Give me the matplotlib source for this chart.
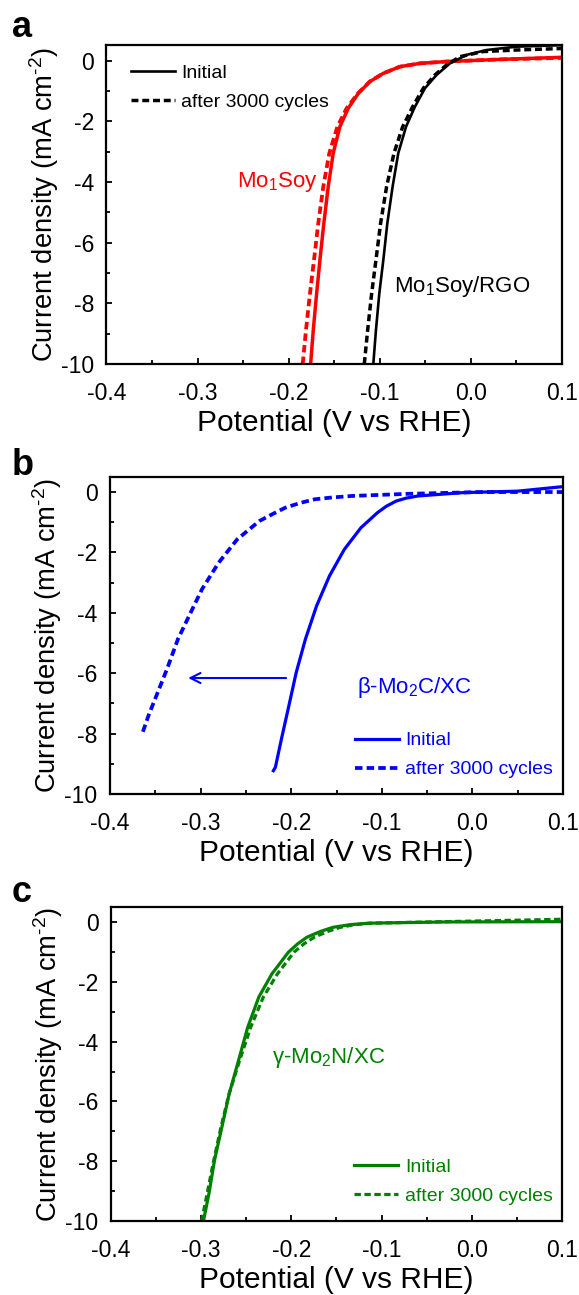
import numpy as np
import matplotlib
matplotlib.use("Agg")
import matplotlib.pyplot as plt
from matplotlib.ticker import MultipleLocator, FormatStrFormatter

plt.rcParams['font.family'] = ['Liberation Sans', 'DejaVu Sans']
plt.rcParams['mathtext.fontset'] = 'custom'
plt.rcParams['mathtext.rm'] = 'Liberation Sans'
plt.rcParams['axes.unicode_minus'] = False

##### data #####
# panel a: Mo1Soy (red)
mo1_init_x = [-0.1759, -0.1730, -0.1693, -0.1657, -0.1614, -0.1566, -0.1511, -0.1438,
              -0.1346, -0.1236, -0.1108, -0.0962, -0.0779, -0.0559, -0.0267, 0.0318, 0.1]
mo1_init_y = [-10, -8.88, -7.67, -6.57, -5.36, -4.15, -3.05, -2.18,
              -1.57, -1.08, -0.69, -0.42, -0.20, -0.09, -0.03, 0.04, 0.11]
mo1_cyc_x = [-0.1846, -0.1810, -0.1766, -0.1722, -0.1675, -0.1620, -0.1554, -0.1466,
             -0.1364, -0.1240, -0.1110, -0.0962, -0.0779, -0.0559, -0.0267, 0.0318, 0.1]
mo1_cyc_y = [-10, -8.88, -7.67, -6.57, -5.36, -4.15, -3.05, -2.18,
             -1.57, -1.08, -0.69, -0.42, -0.20, -0.09, -0.03, 0.04, 0.09]

# panel a: Mo1Soy/RGO (black)
rgo_init_x = [-0.1071, -0.1042, -0.1005, -0.0961, -0.0917, -0.0859, -0.0797, -0.0712,
              -0.0614, -0.0504, -0.0376, -0.0229, -0.0046, 0.0173, 0.0502, 0.1]
rgo_init_y = [-10, -8.88, -7.67, -6.57, -5.36, -4.15, -3.05, -2.18,
              -1.52, -0.91, -0.47, -0.09, 0.19, 0.35, 0.46, 0.51]
rgo_cyc_x = [-0.1170, -0.1133, -0.1089, -0.1042, -0.0991, -0.0925, -0.0844, -0.0749,
             -0.0639, -0.0522, -0.0394, -0.0266, -0.0120, 0.0137, 0.0502, 0.1]
rgo_cyc_y = [-10, -8.88, -7.67, -6.57, -5.36, -4.15, -3.05, -2.18,
             -1.52, -0.91, -0.47, -0.14, 0.13, 0.30, 0.35, 0.40]

# panel b: beta-Mo2C/XC (blue)
mo2c_init_x = [-0.2197, -0.2175, -0.2155, -0.2108, -0.2026, -0.1945, -0.1843, -0.1720,
               -0.1578, -0.1414, -0.1230, -0.1047, -0.0950, -0.0843, -0.0730, -0.0599,
               -0.0110, 0.0502, 0.1]
mo2c_init_y = [-9.23, -9.12, -8.84, -8.18, -7.08, -5.98, -4.87, -3.77,
               -2.78, -1.90, -1.18, -0.68, -0.47, -0.30, -0.20, -0.13,
               -0.02, 0.03, 0.18]
mo2c_cyc_x = [-0.3637, -0.3576, -0.3474, -0.3372, -0.3250, -0.3127, -0.2985, -0.2801,
              -0.2597, -0.2352, -0.2200, -0.2067, -0.1900, -0.1741, -0.1550, -0.1333,
              -0.0721, 0.0095, 0.1]
mo2c_cyc_y = [-7.94, -7.41, -6.64, -5.87, -4.87, -4.10, -3.22, -2.34,
              -1.57, -0.96, -0.72, -0.52, -0.36, -0.24, -0.18, -0.13,
              -0.06, 0.0, 0.0]

# panel c: gamma-Mo2N/XC (green)
mo2n_init_x = [-0.2975, -0.2914, -0.2852, -0.2770, -0.2689, -0.2586, -0.2484, -0.2361,
               -0.2217, -0.2033, -0.1930, -0.1828, -0.1680, -0.1541, -0.1350, -0.1131,
               -0.0311, 0.1]
mo2n_init_y = [-10, -9.08, -7.96, -6.85, -5.74, -4.63, -3.52, -2.51,
               -1.74, -1.01, -0.73, -0.51, -0.32, -0.18, -0.09, -0.04,
               0.0, 0.01]
mo2n_cyc_x = [-0.2996, -0.2934, -0.2860, -0.2780, -0.2690, -0.2574, -0.2451, -0.2311,
              -0.2156, -0.1971, -0.1860, -0.1746, -0.1600, -0.1459, -0.1300, -0.1131,
              -0.0311, 0.1]
mo2n_cyc_y = [-10, -9.08, -7.96, -6.85, -5.74, -4.63, -3.52, -2.51,
              -1.74, -1.01, -0.73, -0.51, -0.32, -0.18, -0.09, -0.04,
              0.01, 0.09]

# arrow in panel b (shift after cycling)
arrow_x = [-0.2026, -0.3168]
arrow_y = -6.16

RED = '#ff0000'
BLUE = '#0000ff'
GREEN = '#008000'
DASH = (2.0, 1.1)
SUP = r'Current density (mA cm$^{\mathregular{' + '\u2010' + r'2}}$)'


def style_axes(ax):
    ax.set_xlim(-0.4, 0.1)
    ax.set_ylim(-10, 0.5)
    ax.xaxis.set_major_locator(MultipleLocator(0.1))
    ax.xaxis.set_minor_locator(MultipleLocator(0.05))
    ax.yaxis.set_major_locator(MultipleLocator(2))
    ax.yaxis.set_minor_locator(MultipleLocator(1))
    ax.xaxis.set_major_formatter(FormatStrFormatter('%.1f'))
    ax.tick_params(which='both', direction='in', top=False, right=False,
                   labelsize=16.5, width=1.3)
    ax.tick_params(axis='x', pad=13)
    ax.tick_params(axis='y', pad=9)
    ax.tick_params(which='major', length=4)
    ax.tick_params(which='minor', length=3)
    for s in ax.spines.values():
        s.set_linewidth(1.6)
    ax.set_xlabel('Potential (V vs RHE)', fontsize=21.5, labelpad=3)
    ax.set_ylabel(SUP, fontsize=19.7, labelpad=0)


def legend(ax, x, y, color):
    ax.legend(loc='upper left', bbox_to_anchor=(x, y), frameon=False, fontsize=14,
              labelcolor=color, handlelength=2.26, handletextpad=0.35, labelspacing=0.58,
              borderpad=0, borderaxespad=0)


fig = plt.figure(figsize=(5.79, 12.95), dpi=100)
ax_a = fig.add_axes([0.1839, 0.7189, 0.7867, 0.2460])
ax_b = fig.add_axes([0.1900, 0.3869, 0.7824, 0.2448])
ax_c = fig.add_axes([0.1917, 0.0571, 0.7789, 0.2425])

# ---- panel a ----
ax_a.plot(mo1_init_x, mo1_init_y, color=RED, lw=2.5)
ax_a.plot(mo1_cyc_x, mo1_cyc_y, color=RED, lw=2.7, ls=(0, DASH))
ax_a.plot(rgo_init_x, rgo_init_y, color='black', lw=1.9, label='Initial')
ax_a.plot(rgo_cyc_x, rgo_cyc_y, color='black', lw=2.5, ls=(0, DASH), label='after 3000 cycles')
legend(ax_a, 0.053, 0.941, 'black')
ax_a.text(-0.2569, -4.01, r'Mo$_{\mathregular{1}}$Soy', color=RED, fontsize=16, va='center')
ax_a.text(-0.0849, -7.43, r'Mo$_{\mathregular{1}}$Soy/RGO', color='black', fontsize=16, va='center')
style_axes(ax_a)

# ---- panel b ----
ax_b.plot(mo2c_init_x, mo2c_init_y, color=BLUE, lw=2.3, label='Initial')
ax_b.plot(mo2c_cyc_x, mo2c_cyc_y, color=BLUE, lw=2.7, ls=(0, DASH), label='after 3000 cycles')
ax_b.annotate('', xy=(arrow_x[1], arrow_y), xytext=(arrow_x[0], arrow_y),
              arrowprops=dict(arrowstyle='->', color=BLUE, lw=1.5, mutation_scale=18))
ax_b.text(-0.1272, -6.47, r'β-Mo$_{\mathregular{2}}$C/XC', color=BLUE, fontsize=16, va='center')
legend(ax_b, 0.540, 0.196, BLUE)
style_axes(ax_b)

# ---- panel c ----
ax_c.plot(mo2n_init_x, mo2n_init_y, color=GREEN, lw=2.3, label='Initial')
ax_c.plot(mo2n_cyc_x, mo2n_cyc_y, color=GREEN, lw=2.3, ls=(0, DASH), label='after 3000 cycles')
ax_c.text(-0.2217, -4.52, r'γ-Mo$_{\mathregular{2}}$N/XC', color=GREEN, fontsize=16, va='center')
legend(ax_c, 0.539, 0.199, GREEN)
style_axes(ax_c)

# panel letters
fig.text(12 / 579, 1 - 37 / 1295, 'a', fontsize=26, fontweight='bold', va='baseline')
fig.text(12 / 579, 1 - 475 / 1295, 'b', fontsize=26, fontweight='bold', va='baseline')
fig.text(12 / 579, 1 - 902 / 1295, 'c', fontsize=26, fontweight='bold', va='baseline')

fig.savefig('out.png', dpi=100)
